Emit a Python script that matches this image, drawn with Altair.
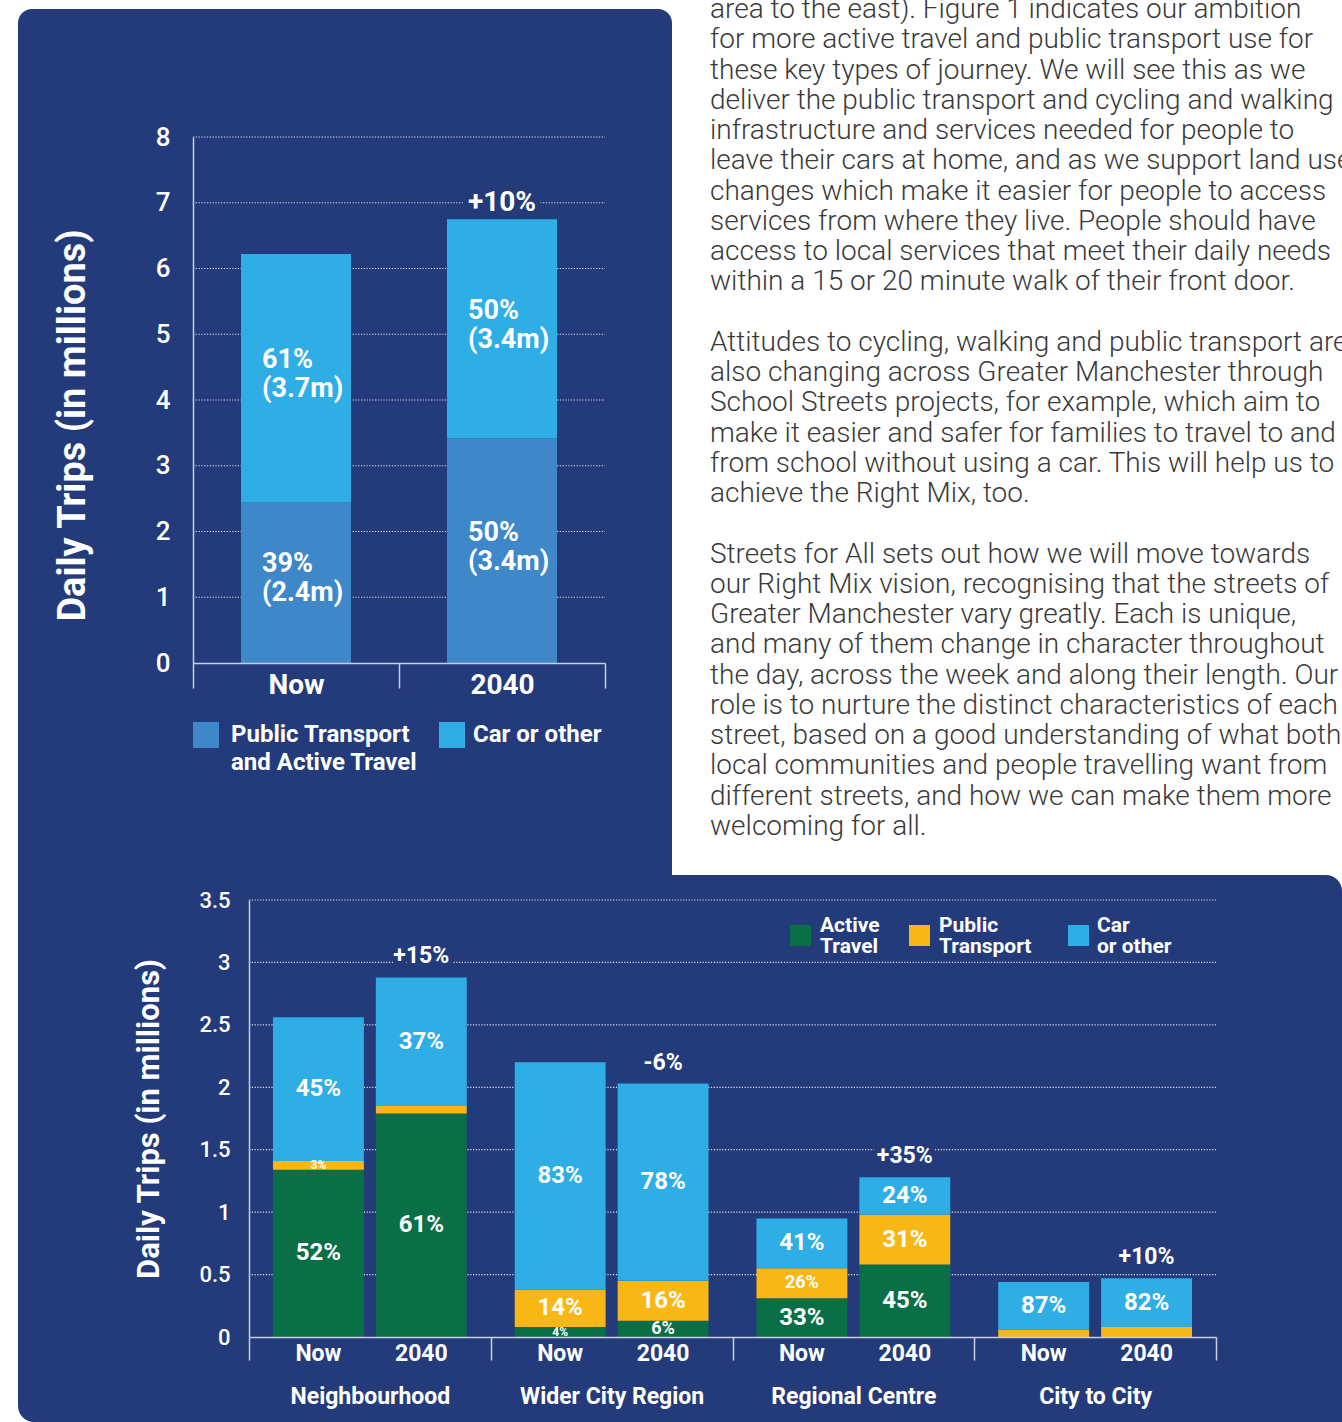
import altair as alt
import pandas as pd

# ---------------- colours & fonts ----------------
NAVY = "#233b7b"
LIGHT_BLUE = "#2eaee5"
MID_BLUE = "#3e87c8"
GREEN = "#0a6e47"
YELLOW = "#f8b715"
AXIS_COL = "#c9cfe2"
FONT = "Roboto"

# ---------------- top chart data ----------------
top_periods = ["Now", "2040"]
top_modes = ["Public Transport and Active Travel", "Car or other"]
top_pt_active = [2.45, 3.42]
top_car = [3.77, 3.33]
top_pt_labels = ["39%\n(2.4m)", "50%\n(3.4m)"]
top_car_labels = ["61%\n(3.7m)", "50%\n(3.4m)"]
top_change = ["", "+10%"]
top_y_ticks = [0, 1, 2, 3, 4, 5, 6, 7, 8]
top_legend = ["Public Transport\nand Active Travel", "Car or other"]

# ---------------- bottom chart data ----------------
groups = ["Neighbourhood", "Wider City Region", "Regional Centre", "City to City"]
periods = ["Now", "2040"]
modes = ["Active Travel", "Public Transport", "Car or other"]
active = [1.34, 1.79, 0.08, 0.13, 0.31, 0.58, 0.0, 0.0]
public = [0.07, 0.06, 0.30, 0.32, 0.24, 0.40, 0.06, 0.08]
car = [1.15, 1.03, 1.82, 1.58, 0.40, 0.30, 0.38, 0.39]
active_lbl = ["52%", "61%", "4%", "6%", "33%", "45%", "", ""]
public_lbl = ["3%", "", "14%", "16%", "26%", "31%", "", ""]
car_lbl = ["45%", "37%", "83%", "78%", "41%", "24%", "87%", "82%"]
change_lbl = ["", "+15%", "", "-6%", "", "+35%", "", "+10%"]
bottom_y_ticks = [0, 0.5, 1, 1.5, 2, 2.5, 3, 3.5]
bottom_legend = ["Active\nTravel", "Public\nTransport", "Car\nor other"]

# ---------------- text column ----------------
para1 = [
    "area to the east). Figure 1 indicates our ambition",
    "for more active travel and public transport use for",
    "these key types of journey. We will see this as we",
    "deliver the public transport and cycling and walking",
    "infrastructure and services needed for people to",
    "leave their cars at home, and as we support land use",
    "changes which make it easier for people to access",
    "services from where they live. People should have",
    "access to local services that meet their daily needs",
    "within a 15 or 20 minute walk of their front door.",
]
para2 = [
    "Attitudes to cycling, walking and public transport are",
    "also changing across Greater Manchester through",
    "School Streets projects, for example, which aim to",
    "make it easier and safer for families to travel to and",
    "from school without using a car. This will help us to",
    "achieve the Right Mix, too.",
]
para3 = [
    "Streets for All sets out how we will move towards",
    "our Right Mix vision, recognising that the streets of",
    "Greater Manchester vary greatly. Each is unique,",
    "and many of them change in character throughout",
    "the day, across the week and along their length. Our",
    "role is to nurture the distinct characteristics of each",
    "street, based on a good understanding of what both",
    "local communities and people travelling want from",
    "different streets, and how we can make them more",
    "welcoming for all.",
]

TITLE = "Daily Trips (in millions)"

# =====================================================================
# Top chart (A)
# =====================================================================
rows = []
for i, p in enumerate(top_periods):
    rows.append(dict(period=p, mode=top_modes[0], value=top_pt_active[i], label=top_pt_labels[i], order=0))
    rows.append(dict(period=p, mode=top_modes[1], value=top_car[i], label=top_car_labels[i], order=1))
top_df = pd.DataFrame(rows)
top_tot = pd.DataFrame({
    "period": top_periods,
    "total": [a + b for a, b in zip(top_pt_active, top_car)],
    "change": top_change,
})

W_A, H_A = 412, 663
yA = alt.Scale(domain=[0, 8], range=[663, 137], nice=False, zero=True)
xA = alt.Scale(domain=top_periods, paddingInner=0, paddingOuter=0)


def xa(field="period:N"):
    return alt.X(field, scale=xA, sort=top_periods, title=None)


def ya(field):
    return alt.Y(field, scale=yA, title=TITLE)


bgA = alt.Chart(pd.DataFrame({"panel": ["top"]})).mark_rect(
    color=NAVY, cornerRadiusTopLeft=14, cornerRadiusTopRight=14
).encode(x=alt.value(-175), x2=alt.value(479), y=alt.value(9), y2=alt.value(875))

gridA = alt.Chart(pd.DataFrame({"v": top_y_ticks[1:]})).mark_rule(
    color="white", strokeWidth=1.2, strokeDash=[1.2, 1.6], opacity=0.85
).encode(y=ya("v:Q"), x=alt.value(0), x2=alt.value(W_A))

stackA = alt.Chart(top_df).transform_stack(
    stack="value", groupby=["period"], as_=["y0", "y1"],
    sort=[alt.SortField(field="order", order="ascending")]
).transform_calculate(mid="(datum.y0 + datum.y1) / 2")

barsA = stackA.mark_bar(width=alt.RelativeBandSize(0.534)).encode(
    x=alt.X("period:N", scale=xA, sort=top_periods, title=None,
            axis=alt.Axis(labelFont=FONT, labelFontSize=28, labelFontWeight="bold",
                          labelColor="white", labelAngle=0, labelPadding=-17,
                          tickBand="extent", tickSize=25, tickColor=AXIS_COL, tickWidth=1.5,
                          domainColor=AXIS_COL, domainWidth=1.5, grid=False, zindex=1)),
    y=alt.Y("y0:Q", scale=yA, title=TITLE,
            axis=alt.Axis(values=top_y_ticks, format="d", labelFont=FONT, labelFontSize=26,
                          labelFontWeight=500, labelColor="white", labelPadding=23,
                          ticks=False, domainColor=AXIS_COL, domainWidth=1.5, grid=False,
                          titleFont=FONT, titleFontSize=38, titleFontWeight="bold",
                          titleColor="white", titlePadding=63, titleY=425, zindex=1)),
    y2="y1:Q",
    color=alt.Color("mode:N", scale=alt.Scale(domain=top_modes, range=[MID_BLUE, LIGHT_BLUE]), legend=None),
)

labelsA = stackA.mark_text(
    align="left", baseline="middle", dx=-34, dy=-18, lineBreak="\n", lineHeight=29,
    font=FONT, fontSize=27, fontWeight="bold", color="white"
).encode(x=xa(), y=ya("mid:Q"), text="label:N")

chgA_base = alt.Chart(top_tot).transform_filter("datum.change != ''")
chgA_halo = chgA_base.mark_text(
    baseline="middle", dy=-16, font=FONT, fontSize=28, fontWeight="bold",
    color=NAVY, stroke=NAVY, strokeWidth=12, strokeJoin="round"
).encode(x=xa(), y=ya("total:Q"), text="change:N")
chgA = chgA_base.mark_text(
    baseline="middle", dy=-16, font=FONT, fontSize=28, fontWeight="bold", color="white"
).encode(x=xa(), y=ya("total:Q"), text="change:N")

legA_df = pd.DataFrame({"name": top_legend})
legA = [
    alt.Chart(legA_df.iloc[[0]]).mark_rect(color=MID_BLUE).encode(
        x=alt.value(0), x2=alt.value(26), y=alt.value(722), y2=alt.value(748)),
    alt.Chart(legA_df.iloc[[0]]).mark_text(
        align="left", baseline="middle", lineBreak="\n", lineHeight=28,
        font=FONT, fontSize=24, fontWeight="bold", color="white"
    ).encode(x=alt.value(38), y=alt.value(735), text="name:N"),
    alt.Chart(legA_df.iloc[[1]]).mark_rect(color=LIGHT_BLUE).encode(
        x=alt.value(246), x2=alt.value(272), y=alt.value(722), y2=alt.value(748)),
    alt.Chart(legA_df.iloc[[1]]).mark_text(
        align="left", baseline="middle", font=FONT, fontSize=24, fontWeight="bold", color="white"
    ).encode(x=alt.value(280), y=alt.value(735), text="name:N"),
]

chartA = alt.layer(bgA, gridA, barsA, labelsA, chgA_halo, chgA, *legA).properties(width=W_A, height=H_A)

# =====================================================================
# Text column (T)
# =====================================================================
lines, line_rows = [], []
r = 0
for para in [para1, para2, para3]:
    for ln in para:
        lines.append(ln)
        line_rows.append(r)
        r += 1
    r += 1
para_df = pd.DataFrame({"line": lines, "row": line_rows})

chartT = alt.Chart(para_df).mark_text(
    align="left", baseline="middle", font=FONT, fontSize=28, fontWeight=300,
    color="#3a3a3a", clip=True
).encode(
    x=alt.value(38),
    y=alt.Y("row:Q", scale=alt.Scale(domain=[0, 27], range=[10, 827]), axis=None),
    text="line:N",
).properties(width=670, height=875)

# =====================================================================
# Bottom chart (B)
# =====================================================================
bar_groups = [g for g in groups for _ in periods]
bar_periods = periods * len(groups)
brows = []
for i in range(len(bar_groups)):
    for m, vals, lbls, o in [(modes[0], active, active_lbl, 0),
                             (modes[1], public, public_lbl, 1),
                             (modes[2], car, car_lbl, 2)]:
        brows.append(dict(group=bar_groups[i], period=bar_periods[i], mode=m,
                          value=vals[i], label=lbls[i], order=o))
bot_df = pd.DataFrame(brows)
bot_tot = pd.DataFrame({
    "group": bar_groups, "period": bar_periods,
    "total": [a + b + c for a, b, c in zip(active, public, car)],
    "change": change_lbl,
})

W_B, H_B = 1023, 437
xB = alt.Scale(domain=groups, range=[56, 1023], paddingInner=0, paddingOuter=0)
xoB = alt.Scale(domain=periods, paddingInner=0.1165, paddingOuter=0.233)
yB = alt.Scale(domain=[0, 3.5], nice=False, zero=True)


def xb():
    return alt.X("group:N", scale=xB, sort=groups, title=None)


def xob():
    return alt.XOffset("period:N", scale=xoB, sort=periods)


def yb(field):
    return alt.Y(field, scale=yB, title=TITLE)


bgB = alt.Chart(pd.DataFrame({"panel": ["bottom"]})).mark_rect(
    color=NAVY, cornerRadiusTopRight=16, cornerRadiusBottomLeft=16
).encode(x=alt.value(-175), x2=alt.value(1149), y=alt.value(-25), y2=alt.value(522))

gridB = alt.Chart(pd.DataFrame({"v": bottom_y_ticks[1:]})).mark_rule(
    color="white", strokeWidth=1.2, strokeDash=[1.2, 1.6], opacity=0.85
).encode(y=yb("v:Q"), x=alt.value(56), x2=alt.value(W_B))

stackB = alt.Chart(bot_df).transform_stack(
    stack="value", groupby=["group", "period"], as_=["y0", "y1"],
    sort=[alt.SortField(field="order", order="ascending")]
).transform_calculate(
    mid="(datum.y0 + datum.y1) / 2",
    fs="(datum.y1 - datum.y0) < 0.1 ? 12 : ((datum.y1 - datum.y0) < 0.27 ? 18 : 24)",
)

barsB = stackB.mark_bar().encode(
    x=alt.X("group:N", scale=xB, sort=groups, title=None,
            axis=alt.Axis(labelFont=FONT, labelFontSize=23, labelFontWeight="bold",
                          labelColor="white", labelAngle=0, labelPadding=25, labelLimit=300,
                          tickBand="extent", tickSize=23, tickColor=AXIS_COL, tickWidth=1.5,
                          domainColor=AXIS_COL, domainWidth=1.5, grid=False, zindex=1)),
    xOffset=xob(),
    y=alt.Y("y0:Q", scale=yB, title=TITLE,
            axis=alt.Axis(values=bottom_y_ticks, format=".1~f", labelFont=FONT, labelFontSize=22,
                          labelFontWeight=500, labelColor="white", labelPadding=19,
                          ticks=False, domainColor=AXIS_COL, domainWidth=1.5, grid=False,
                          offset=-56, titleFont=FONT, titleFontSize=31, titleFontWeight="bold",
                          titleColor="white", titlePadding=33, zindex=1)),
    y2="y1:Q",
    color=alt.Color("mode:N", scale=alt.Scale(domain=modes, range=[GREEN, YELLOW, LIGHT_BLUE]), legend=None),
)

labelsB = stackB.transform_filter("datum.label != ''").mark_text(
    baseline="middle", font=FONT, fontWeight="bold", color="white"
).encode(
    x=xb(), xOffset=xob(), y=yb("mid:Q"),
    size=alt.Size("fs:Q", scale=None),
    text="label:N",
)

periodB = alt.Chart(bot_tot).mark_text(
    baseline="middle", font=FONT, fontSize=23, fontWeight="bold", color="white"
).encode(x=xb(), xOffset=xob(), y=alt.value(H_B + 17), text="period:N")

chgB_base = alt.Chart(bot_tot).transform_filter("datum.change != ''")
chgB_halo = chgB_base.mark_text(
    baseline="middle", dy=-21, font=FONT, fontSize=23, fontWeight="bold",
    color=NAVY, stroke=NAVY, strokeWidth=10, strokeJoin="round"
).encode(x=xb(), xOffset=xob(), y=yb("total:Q"), text="change:N")
chgB = chgB_base.mark_text(
    baseline="middle", dy=-21, font=FONT, fontSize=23, fontWeight="bold", color="white"
).encode(x=xb(), xOffset=xob(), y=yb("total:Q"), text="change:N")

legB_df = pd.DataFrame({"name": bottom_legend})
legB = []
for i, (col, sx, tx) in enumerate([(GREEN, 597, 627), (YELLOW, 716, 746), (LIGHT_BLUE, 875, 904)]):
    legB.append(alt.Chart(legB_df.iloc[[i]]).mark_rect(color=col).encode(
        x=alt.value(sx), x2=alt.value(sx + 21), y=alt.value(25), y2=alt.value(46)))
    legB.append(alt.Chart(legB_df.iloc[[i]]).mark_text(
        align="left", baseline="middle", lineBreak="\n", lineHeight=21,
        font=FONT, fontSize=21, fontWeight="bold", color="white"
    ).encode(x=alt.value(tx), y=alt.value(26), text="name:N"))

chartB = alt.layer(bgB, gridB, barsB, labelsB, periodB, chgB_halo, chgB, *legB).properties(width=W_B, height=H_B)

# =====================================================================
chart = alt.vconcat(
    alt.hconcat(chartA, chartT, spacing=0).resolve_scale(color="independent"),
    chartB,
    spacing=0,
).resolve_scale(color="independent").properties(
    padding={"left": 18, "top": 0, "right": 0, "bottom": 0},
    background="white",
).configure_view(strokeWidth=0)

chart.save("out.html", embed_options={"renderer": "svg", "actions": False})
